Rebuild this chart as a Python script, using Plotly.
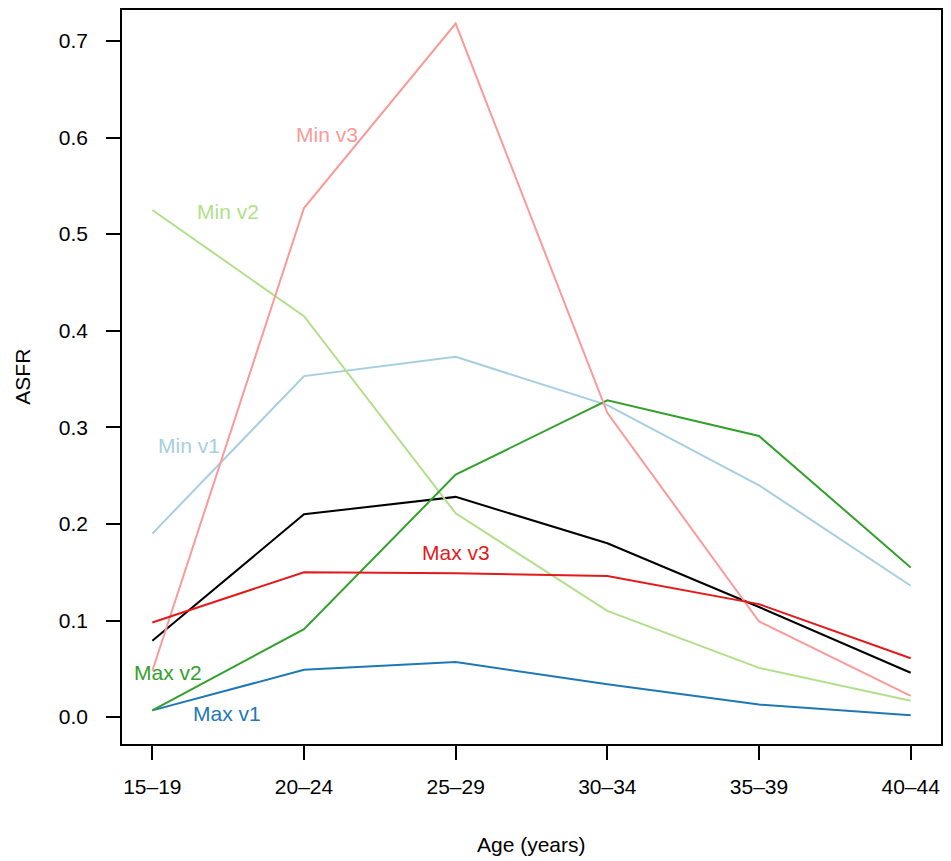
import plotly.graph_objects as go

# age groups and ASFR values
ages = ['15–19', '20–24', '25–29', '30–34', '35–39', '40–44']
pos = [0, 1, 2, 3, 4, 5]

base = [0.079, 0.210, 0.228, 0.180, 0.114, 0.046]
min_v1 = [0.190, 0.353, 0.373, 0.323, 0.240, 0.136]
max_v1 = [0.007, 0.049, 0.057, 0.034, 0.013, 0.002]
min_v2 = [0.525, 0.415, 0.211, 0.110, 0.051, 0.017]
max_v2 = [0.007, 0.091, 0.251, 0.328, 0.291, 0.155]
min_v3 = [0.048, 0.527, 0.718, 0.315, 0.099, 0.022]
max_v3 = [0.098, 0.150, 0.149, 0.146, 0.117, 0.061]

# label placement (index, value)
lab_names = ['Min v1', 'Max v1', 'Min v2', 'Max v2', 'Min v3', 'Max v3']
lab_x = [0.245, 0.49, 0.50, 0.10, 1.15, 2.0]
lab_y = [0.281, 0.004, 0.523, 0.046, 0.603, 0.170]

cols = {'Min v1': '#A6CEE3', 'Max v1': '#1F78B4',
        'Min v2': '#B2DF8A', 'Max v2': '#33A02C',
        'Min v3': '#FB9A99', 'Max v3': '#E31A1C'}

series = {'Min v1': min_v1, 'Max v1': max_v1, 'Min v2': min_v2,
          'Max v2': max_v2, 'Min v3': min_v3, 'Max v3': max_v3}

font = 'Liberation Sans, Arial, Helvetica, sans-serif'

fig = go.Figure()
fig.add_trace(go.Scatter(x=pos, y=base, mode='lines', name='Base',
                         line=dict(color='black', width=2)))
for name, vals in series.items():
    fig.add_trace(go.Scatter(x=pos, y=vals, mode='lines', name=name,
                             line=dict(color=cols[name], width=2)))

for name, lx, ly in zip(lab_names, lab_x, lab_y):
    fig.add_annotation(x=lx, y=ly, text=name, showarrow=False,
                       font=dict(color=cols[name], size=21, family=font),
                       xanchor='center', yanchor='middle')

# axis titles placed like R's mtext
fig.add_annotation(x=0.5, y=-0.137, xref='paper', yref='paper',
                   text='Age (years)', showarrow=False,
                   font=dict(size=21, family=font, color='black'),
                   xanchor='center', yanchor='middle')
fig.add_annotation(x=-0.1225, y=0.5, xref='paper', yref='paper',
                   text='ASFR', showarrow=False, textangle=-90,
                   font=dict(size=21, family=font, color='black'),
                   xanchor='center', yanchor='middle')

# page body has an 8px margin, so size/margins are shifted to compensate
fig.update_layout(
    width=935, height=853,
    margin=dict(l=114, r=1, t=0, b=117),
    plot_bgcolor='white', paper_bgcolor='white',
    showlegend=False,
    font=dict(family=font, size=21, color='black'),
    xaxis=dict(range=[-0.2, 5.2], tickvals=pos, ticktext=ages,
               showgrid=False, zeroline=False, showline=True, mirror=True,
               linecolor='black', linewidth=1.5, ticks='outside',
               ticklen=14, tickwidth=1.5, tickcolor='black',
               ticklabelstandoff=9, ticklabeloverflow='allow'),
    yaxis=dict(range=[-0.0278, 0.732], tickvals=[0, 0.1, 0.2, 0.3, 0.4, 0.5, 0.6, 0.7],
               tickformat='.1f',
               showgrid=False, zeroline=False, showline=True, mirror=True,
               linecolor='black', linewidth=1.5, ticks='outside',
               ticklen=14, tickwidth=1.5, tickcolor='black',
               ticklabelstandoff=14),
)

fig.write_html('out.html')
